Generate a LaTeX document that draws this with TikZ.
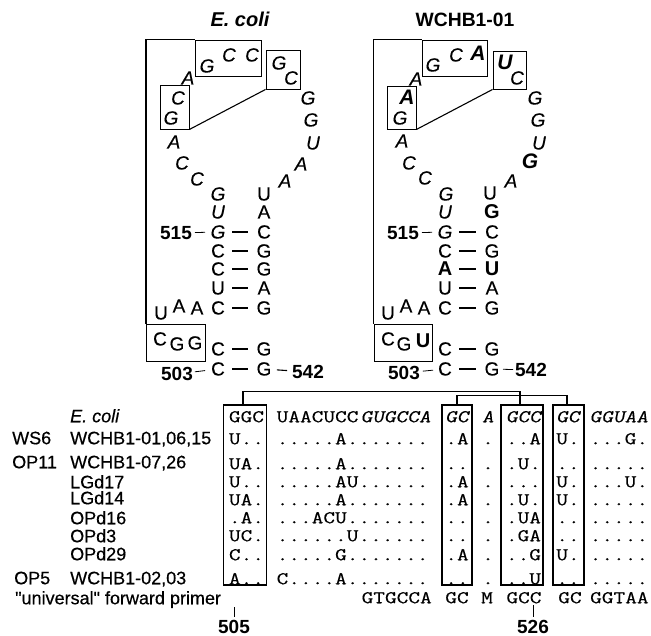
\documentclass[tikz,border=0pt]{standalone}
\usepackage{fontspec}
\setmainfont{Liberation Sans}
\newfontfamily\lblfont[FakeBold=0.45]{Liberation Sans}
\newfontfamily\ntfont[FakeBold=0.25]{Liberation Sans}
\newfontfamily\seqfont[FakeStretch=1.26,FakeBold=0.35]{Latin Modern Mono}
\newfontfamily\seqitfont[FakeStretch=1.26,FakeBold=0.35,FakeSlant=0.2]{Latin Modern Mono}
\newcommand\bs[5][ita]{\node[#1] (#2) at (#3,#4) {#5};}
\newcommand\sqn[4]{\node[mono] (#1) at (#2,#3) {#4};}
\newcommand\scn[4]{\node[monoc] (#1) at (#2,#3) {#4};}
\tikzset{
  ita/.style={font=\fontsize{19}{19}\ntfont\selectfont\itshape,inner sep=0pt,text height=13pt,text depth=0pt},
  upr/.style={font=\fontsize{19}{19}\ntfont\selectfont,inner sep=0pt,text height=13pt,text depth=0pt},
  bol/.style={font=\fontsize{20}{20}\selectfont\bfseries,inner sep=0pt,text height=13.5pt,text depth=0pt},
  bit/.style={font=\fontsize{21}{21}\selectfont\bfseries\itshape,inner sep=0pt,text height=14pt,text depth=0pt},
  num/.style={font=\fontsize{19}{19}\selectfont\bfseries,inner sep=0pt,text height=13pt,text depth=0pt},
  ttl/.style={font=\fontsize{19.3}{19.3}\selectfont\bfseries,inner sep=0pt,text height=13pt,text depth=0pt},
  lbl/.style={font=\fontsize{18}{18}\lblfont\selectfont,inner sep=0pt,text height=12.5pt,text depth=0pt,anchor=west},
  mono/.style={font=\fontsize{18}{18}\seqfont\selectfont,inner sep=0pt,text height=10.5pt,text depth=0pt,anchor=west},
  monoc/.style={mono,anchor=center},
  monoi/.style={font=\fontsize{18}{18}\seqitfont\selectfont,inner sep=0pt,text height=10.5pt,text depth=0pt,anchor=west},
  monoic/.style={monoi,anchor=center},
  box/.style={draw,line width=0.9pt,inner sep=0pt},
  alnbox/.style={draw,line width=1.5pt,inner sep=0pt,minimum width=#1,minimum height=180pt},
  heavy/.style={line width=1.6pt},
  thin line/.style={line width=0.8pt},
  pair/.style={line width=1.1pt},
  tick/.style={line width=0.7pt,shorten >=3pt},
}
\begin{document}
\begin{tikzpicture}[x=1pt,y=-1pt]
\useasboundingbox (0,0) rectangle (651,636);
% ---------- E. coli
\node[ttl,font=\fontsize{20}{20}\selectfont\bfseries\itshape] (t1) at (240,20) {E. coli};
\node[box,minimum width=66pt,minimum height=36pt] (e1) at (228,58) {};
\node[box,minimum width=34pt,minimum height=39pt] (e2) at (283,69.5) {};
\node[box,minimum width=29pt,minimum height=44pt] (e3) at (174.5,107) {};
\node[box,minimum width=59pt,minimum height=37pt] (e4) at (176,342.5) {};
\draw[heavy] (e4.north west) |- (e1.north west);
\draw[line width=1.1pt] (e3.south east) -- (e2.south west);
\bs{ea1}{188}{78}{A}\bs{ea2}{207}{66}{G}\bs{ea3}{229}{55}{C}\bs{ea4}{252}{55}{C}
\bs{ea5}{279}{63}{G}\bs{ea6}{291}{78}{C}\bs{ea7}{308}{98}{G}\bs{ea8}{311}{120}{G}
\bs{ea9}{313}{143}{U}\bs{ea10}{301}{164}{A}\bs{ea11}{285}{181}{A}
\bs{ea12}{197}{179}{C}\bs{ea13}{182}{163}{C}\bs{ea14}{174}{142}{A}\bs{ea15}{171}{118}{G}\bs{ea16}{178}{98}{C}
\bs{el0}{218}{194}{G}\bs[upr]{er0}{264}{194}{U}
\bs{el1}{218}{212}{U}\bs[upr]{er1}{264}{212}{A}
\bs{el2}{218}{232}{G}\bs[upr]{er2}{264}{232}{C}
\bs[upr]{el3}{218}{251}{C}\bs[upr]{er3}{264}{251}{G}
\bs[upr]{el4}{218}{269}{C}\bs[upr]{er4}{264}{269}{G}
\bs[upr]{el5}{218}{288}{U}\bs[upr]{er5}{264}{288}{A}
\bs[upr]{el6}{218}{308}{C}\bs[upr]{er6}{264}{308}{G}
\bs[upr]{el7}{218}{349}{C}\bs[upr]{er7}{264}{349}{G}
\bs[upr]{el8}{218}{369}{C}\bs[upr]{er8}{264}{369}{G}
\foreach \i in {2,...,8} {\draw[pair,shorten <=14pt,shorten >=16pt] (el\i.center) -- (er\i.center);}
\bs[upr]{eu1}{161}{313}{U}\bs[upr]{eu2}{179}{306}{A}\bs[upr]{eu3}{197}{308}{A}
\bs[upr]{eb1}{160}{339}{C}\bs[upr]{eb2}{177}{344}{G}\bs[upr]{eb3}{195}{343}{G}
\bs[num]{en1}{176}{233}{515}\bs[num]{en2}{177}{374}{503}\bs[num]{en3}{308}{372}{542}
\draw[thin line,shorten <=19pt,shorten >=13pt] (en1.center) -- (el2.center);
\draw[thin line,shorten <=18pt,shorten >=13pt] (en2.center) -- (el8.center);
\draw[line width=1.1pt,shorten <=13pt,shorten >=21pt] (er8.center) -- (en3.center);
% ---------- WCHB1-01
\node[ttl] (t2) at (465,20) {WCHB1-01};
\node[box,minimum width=65pt,minimum height=36pt] (w1) at (454.5,58) {};
\node[box,minimum width=33pt,minimum height=38pt] (w2) at (509.5,70) {};
\node[box,minimum width=29pt,minimum height=43pt] (w3) at (401.5,107.5) {};
\node[box,minimum width=58pt,minimum height=37pt] (w4) at (403,342.5) {};
\draw[line width=1.4pt] (w4.north west) |- (w1.north west);
\draw[line width=1.1pt] (w3.south east) -- (w2.south west);
\bs{wa1}{416}{79}{A}\bs{wa2}{433}{65}{G}\bs{wa3}{456}{55}{C}\bs[bit]{wa4}{478}{54}{A}
\bs[bit]{wa5}{505}{63}{U}\bs{wa6}{517}{78}{C}\bs{wa7}{535}{98}{G}\bs{wa8}{538}{120}{G}
\bs{wa9}{539}{143}{U}\bs[bit]{wa10}{530}{162}{G}\bs{wa11}{511}{181}{A}
\bs{wa12}{425}{178}{C}\bs{wa13}{409}{163}{C}\bs{wa14}{402}{141}{A}\bs{wa15}{400}{118}{G}\bs[bit]{wa16}{407}{98}{A}
\bs{wl0}{446}{194}{G}\bs[upr]{wr0}{490}{193}{U}
\bs{wl1}{445}{212}{U}\bs[bol]{wr1}{492}{212}{G}
\bs{wl2}{445}{232}{G}\bs[upr]{wr2}{492}{232}{C}
\bs[upr]{wl3}{445}{251}{C}\bs[upr]{wr3}{492}{251}{G}
\bs[bol]{wl4}{445}{269}{A}\bs[bol]{wr4}{492}{269}{U}
\bs[upr]{wl5}{445}{288}{U}\bs[upr]{wr5}{492}{288}{A}
\bs[upr]{wl6}{445}{308}{C}\bs[upr]{wr6}{492}{308}{G}
\bs[upr]{wl7}{445}{349}{C}\bs[upr]{wr7}{492}{349}{G}
\bs[upr]{wl8}{445}{369}{C}\bs[upr]{wr8}{492}{369}{G}
\foreach \i in {2,...,8} {\draw[pair,shorten <=14pt,shorten >=16pt] (wl\i.center) -- (wr\i.center);}
\bs[upr]{wu1}{388}{313}{U}\bs[upr]{wu2}{406}{306}{A}\bs[upr]{wu3}{424}{308}{A}
\bs[upr]{wb1}{388}{339}{C}\bs[upr]{wb2}{404}{344}{G}\bs[bol]{wb3}{423}{341}{U}
\bs[num]{wn1}{403}{233}{515}\bs[num]{wn2}{404}{373}{503}\bs[num]{wn3}{531}{370}{542}
\draw[thin line,shorten <=19pt,shorten >=13pt] (wn1.center) -- (wl2.center);
\draw[thin line,shorten <=19pt,shorten >=12pt] (wn2.center) -- (wl8.center);
\draw[thin line,shorten <=11pt,shorten >=18pt] (wr8.center) -- (wn3.center);
% ---------- alignment boxes
\node[alnbox=43pt] (b1) at (245,495) {};
\node[alnbox=30pt] (b2) at (457,495) {};
\node[alnbox=42pt] (b3) at (522,495) {};
\node[alnbox=31pt] (b4) at (568.5,495) {};
\coordinate (c1) at ([xshift=-2pt]b1.north);
\coordinate (c3) at ([xshift=-2pt]b3.north);
\coordinate (c4) at ([xshift=-1.5pt]b4.north);
\draw[line width=1.1pt] (c1) -- ++(0,-13) -| (c3);
\draw[line width=1.1pt] (b2.north) -- ++(0,-9) -| (c4);
% ---------- row labels
\node[lbl,font=\fontsize{18}{18}\lblfont\selectfont\itshape] (r0) at (70,416) {E. coli};
\node[lbl] (g1) at (12,438) {WS6};\node[lbl] (r1) at (70,438) {WCHB1-01,06,15};
\node[lbl] (g2) at (12,462) {OP11};\node[lbl] (r2) at (70,462) {WCHB1-07,26};
\node[lbl] (r3) at (70,482) {LGd17};
\node[lbl] (r4) at (70,498) {LGd14};
\node[lbl] (r5) at (70,518) {OPd16};
\node[lbl] (r6) at (70,536) {OPd3};
\node[lbl] (r7) at (70,554) {OPd29};
\node[lbl] (g3) at (14,578) {OP5};\node[lbl] (r8) at (70,578) {WCHB1-02,03};
\node[lbl] (r9) at (15,598) {"universal" forward primer};
% ---------- sequences (one row per y)
\scn{a0}{246.5}{417}{GGC}\sqn{a1}{276.5}{417}{UAACUCC}\node[monoi] (a2) at (360.5,417) {GUGCCA};
\node[monoic] (a3) at (457,417) {GC};
\node[monoic] (a4) at (488,417) {A};
\node[monoic] (a5) at (523.5,417) {GCC};
\node[monoic] (a6) at (568,417) {GC};
\node[monoi] (a7) at (589.5,417) {GGUAA};
\newcommand\rw[8]{\scn{s#1a}{246.5}{#2}{#3}\sqn{s#1b}{276.5}{#2}{#4}\scn{s#1c}{457}{#2}{#5}\scn{s#1d}{488}{#2}{.}\scn{s#1e}{523.5}{#2}{#6}\scn{s#1f}{568}{#2}{#7}\sqn{s#1g}{589.5}{#2}{#8}}
\rw{1}{439}{U..}{.....A.......}{.A}{..A}{U.}{...G.}
\rw{2}{464}{UA.}{.....A.......}{..}{.U.}{..}{.....}
\rw{3}{482}{U..}{.....AU......}{.A}{...}{U.}{...U.}
\rw{4}{500}{UA.}{.....A.......}{.A}{.U.}{U.}{.....}
\rw{5}{518}{.A.}{...ACU.......}{..}{.UA}{..}{.....}
\rw{6}{536}{UC.}{......U......}{..}{.GA}{..}{.....}
\rw{7}{555}{C..}{.....G.......}{.A}{..G}{U.}{.....}
\rw{8}{579}{A..}{C....A.......}{..}{..U}{..}{.....}
\sqn{p1}{361.5}{598}{GTGCCA}\scn{p2}{457}{598}{GC}\scn{p3}{487}{598}{M}\scn{p4}{524}{598}{GCC}\scn{p5}{570}{598}{GC}\sqn{p6}{590}{598}{GGTAA}
% ---------- position ticks
\bs[num]{n505}{234}{627}{505}\bs[num]{n526}{533}{627}{526}
\coordinate (k1) at (234,607);\coordinate (k2) at (533,605);
\draw[tick] (k1) -- (n505.north);
\draw[tick] (k2) -- (n526.north);
\end{tikzpicture}
\end{document}
